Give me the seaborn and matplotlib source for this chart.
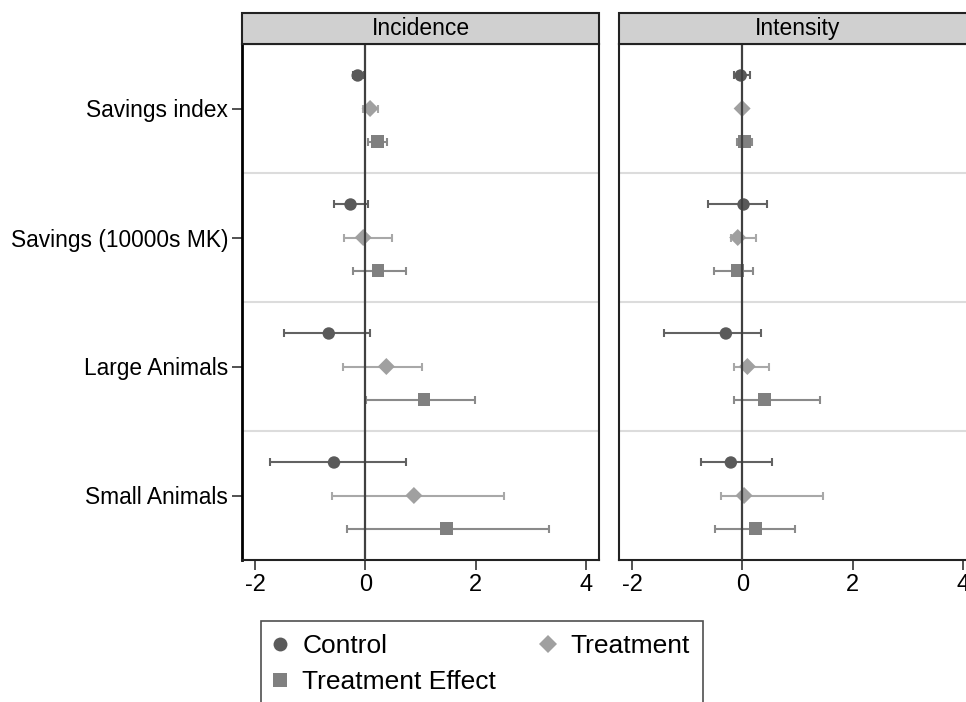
import pandas as pd
import matplotlib.pyplot as plt
import seaborn as sns
from matplotlib.patches import Rectangle
from matplotlib.lines import Line2D

# Valores (estimativa e intervalo de confiança)
variables = ['Savings index', 'Savings (10000s MK)', 'Large Animals', 'Small Animals']
panels = ['Incidence', 'Intensity']
series = ['Control', 'Treatment', 'Treatment Effect']

# Incidence
inc_control_est = [-0.14, -0.27, -0.665, -0.57]
inc_control_lo = [-0.22, -0.575, -1.48, -1.74]
inc_control_hi = [-0.03, 0.04, 0.08, 0.745]
inc_treat_est = [0.085, -0.04, 0.38, 0.88]
inc_treat_lo = [-0.05, -0.38, -0.405, -0.6]
inc_treat_hi = [0.23, 0.48, 1.03, 2.51]
inc_effect_est = [0.22, 0.23, 1.06, 1.47]
inc_effect_lo = [0.05, -0.22, 0.01, -0.33]
inc_effect_hi = [0.39, 0.73, 1.99, 3.33]

# Intensity
int_control_est = [-0.03, 0.02, -0.30, -0.21]
int_control_lo = [-0.16, -0.62, -1.42, -0.75]
int_control_hi = [0.13, 0.44, 0.33, 0.53]
int_treat_est = [-0.005, -0.085, 0.09, 0.03]
int_treat_lo = [-0.04, -0.21, -0.15, -0.38]
int_treat_hi = [0.03, 0.24, 0.49, 1.47]
int_effect_est = [0.04, -0.09, 0.40, 0.24]
int_effect_lo = [-0.10, -0.52, -0.16, -0.49]
int_effect_hi = [0.18, 0.20, 1.40, 0.95]

# Montar tabela longa
rows = []
blocks = {
    'Incidence': [(inc_control_est, inc_control_lo, inc_control_hi),
                  (inc_treat_est, inc_treat_lo, inc_treat_hi),
                  (inc_effect_est, inc_effect_lo, inc_effect_hi)],
    'Intensity': [(int_control_est, int_control_lo, int_control_hi),
                  (int_treat_est, int_treat_lo, int_treat_hi),
                  (int_effect_est, int_effect_lo, int_effect_hi)],
}
for panel, lst in blocks.items():
    for s, (est, lo, hi) in zip(series, lst):
        for v, e, l, h in zip(variables, est, lo, hi):
            rows.append({'panel': panel, 'series': s, 'variable': v, 'est': e, 'lo': l, 'hi': h})
data = pd.DataFrame(rows)

offsets = {'Control': -0.256, 'Treatment': 0.0, 'Treatment Effect': 0.256}
data['ypos'] = data['variable'].map({v: i for i, v in enumerate(variables)}) + data['series'].map(offsets)

marker_colors = {'Control': '#5a5a5a', 'Treatment': '#a0a0a0', 'Treatment Effect': '#808080'}
bar_colors = {'Control': '#626262', 'Treatment': '#a8a8a8', 'Treatment Effect': '#8a8a8a'}
markers = {'Control': 'o', 'Treatment': 'D', 'Treatment Effect': 's'}
sizes = {'Control': 80, 'Treatment': 75, 'Treatment Effect': 80}

sns.set_style('white')
plt.rcParams['font.family'] = ['Liberation Sans', 'DejaVu Sans']
plt.rcParams['axes.unicode_minus'] = False
plt.rcParams['text.color'] = 'black'
plt.rcParams['xtick.color'] = 'black'
plt.rcParams['ytick.color'] = 'black'

fig = plt.figure(figsize=(9.66, 7.02), dpi=100)
ax1 = fig.add_axes([242 / 966, 1 - 560 / 702, 357 / 966, 516 / 702])
ax2 = fig.add_axes([619 / 966, 1 - 560 / 702, 357 / 966, 516 / 702])

for ax, panel in zip([ax1, ax2], panels):
    sub = data[data['panel'] == panel]
    for b in [0.5, 1.5, 2.5]:
        ax.axhline(b, color='#dcdcdc', lw=1.5, zorder=0)
    for s in series:
        d = sub[sub['series'] == s]
        ax.errorbar(d['est'], d['ypos'], xerr=[d['est'] - d['lo'], d['hi'] - d['est']],
                    fmt='none', ecolor=bar_colors[s], elinewidth=1.5, capsize=3.2,
                    capthick=1.5, zorder=2)
    sns.scatterplot(data=sub, x='est', y='ypos', hue='series', style='series',
                    palette=marker_colors, markers=markers, size='series', sizes=sizes,
                    edgecolor='none', legend=False, ax=ax, zorder=3)
    ax.axvline(0, color='#404040', lw=1.6, zorder=4)
    ax.set_xlim(-2.24, 4.24)
    ax.set_ylim(3.5, -0.5)
    ax.set_xticks([-2, 0, 2, 4])
    ax.set_xlabel('')
    ax.set_ylabel('')
    for sp in ax.spines.values():
        sp.set_visible(True)
        sp.set_color('#222222')
        sp.set_linewidth(1.5)
    ax.tick_params(axis='x', bottom=True, length=7, width=1.2, labelsize=17, pad=3, color='#333333')
    # faixa do título do painel
    h = 31 / 516
    ax.add_patch(Rectangle((0, 1), 1, h, transform=ax.transAxes, clip_on=False,
                           facecolor='#d0d0d0', edgecolor='#222222', lw=1.5, zorder=5))
    ax.text(0.5, 1 + h / 2, panel, transform=ax.transAxes, ha='center', va='center',
            fontsize=16.5, zorder=6)

ax1.set_yticks(range(len(variables)))
ax1.set_yticklabels(variables)
ax1.tick_params(axis='y', left=True, length=7, width=1.2, labelsize=16.4, pad=3, color='#333333')
ax1.spines['left'].set_color('black')
ax1.spines['left'].set_linewidth(2)
ax2.set_yticks(range(len(variables)))
ax2.tick_params(axis='y', left=False, labelleft=False)

handles = [Line2D([], [], ls='none', marker=markers[s], color=marker_colors[s],
                  markersize=10 if s != 'Treatment' else 9, markeredgewidth=0) for s in series]
order = [0, 2, 1]
leg = fig.legend([handles[i] for i in order], [series[i] for i in order], ncol=2,
                 loc='upper left', bbox_to_anchor=(261 / 966, 1 - 621 / 702),
                 fontsize=19, frameon=True, fancybox=False, edgecolor='#222222',
                 handlelength=0.45, handletextpad=0.62, columnspacing=1.75,
                 borderpad=0.5, labelspacing=0.45, borderaxespad=0)
leg.get_frame().set_linewidth(1.2)

plt.savefig('out.png', dpi=100)
